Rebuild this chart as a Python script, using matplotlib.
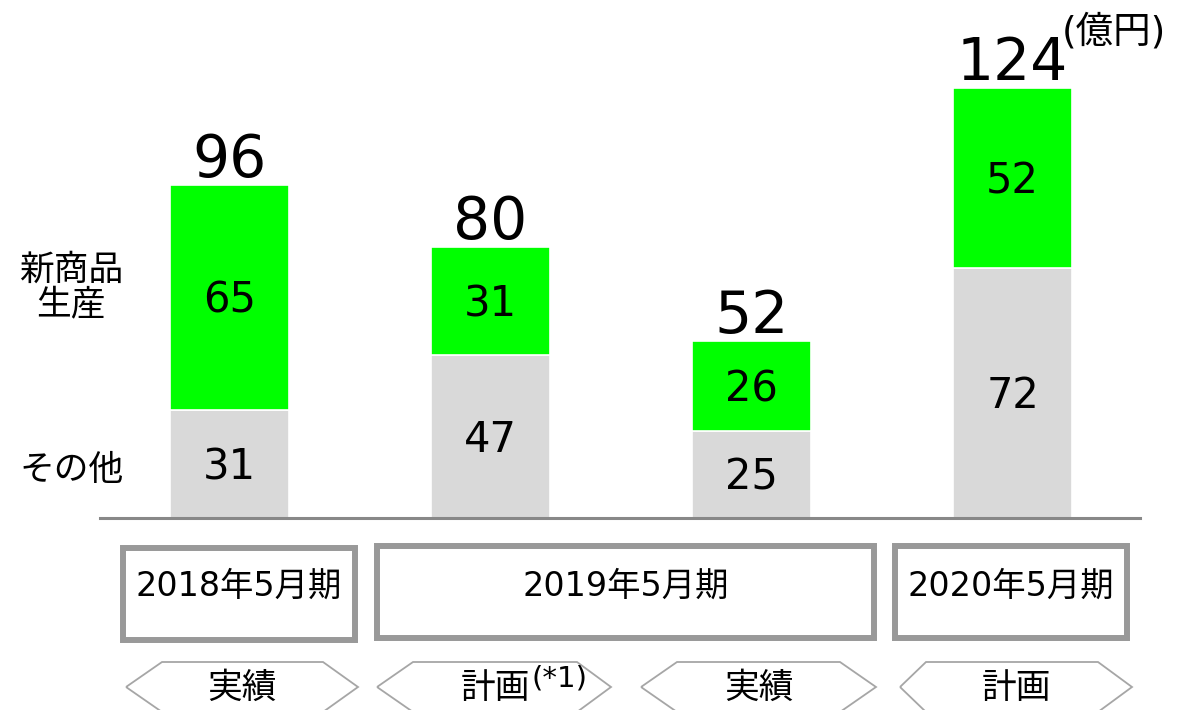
import numpy as np
import matplotlib
matplotlib.use("Agg")
import matplotlib.pyplot as plt
from matplotlib.patches import Rectangle, Polygon

plt.rcParams['font.family'] = ['DejaVu Sans', 'Noto Sans CJK JP']

# data
other = [31, 47, 25, 72]
new_product = [65, 31, 26, 52]
totals = [96, 80, 52, 124]
periods = ['2018年5月期', '2019年5月期', '2020年5月期']
kinds = ['実績', '計画', '実績', '計画']
kind_note = ['', '(*1)', '', '']
series_names = ['新商品\n生産', 'その他']
unit = '(億円)'

W, H = 1181, 710
fig = plt.figure(figsize=(W / 100, H / 100), dpi=100)

# bar axes, placed in pixels: baseline at y=518, x from 100 to 1140
px_per_unit = 3.468
step = 261.0
x0_px = 229.5
ax_left, ax_right, ax_bottom = 100, 1140, 518
ax = fig.add_axes([ax_left / W, 1 - ax_bottom / H, (ax_right - ax_left) / W, ax_bottom / H])
ax.set_xlim((ax_left - x0_px) / step, (ax_right - x0_px) / step)
ax.set_ylim(0, ax_bottom / px_per_unit)
ax.axis('off')

x = np.arange(len(other))
bw = 119 / step
ax.bar(x, other, width=bw, color='#d9d9d9', edgecolor='white', linewidth=1.2)
ax.bar(x, new_product, width=bw, bottom=other, color='#00ff00', edgecolor='white', linewidth=1.2)
ax.axhline(0, color='#888888', linewidth=2.2, clip_on=False)

for i in range(len(x)):
    ax.annotate(str(other[i]), (x[i], other[i] / 2), xytext=(0, -3), textcoords='offset pixels',
                ha='center', va='center', fontsize=30)
    ax.annotate(str(new_product[i]), (x[i], other[i] + new_product[i] / 2), xytext=(0, -3),
                textcoords='offset pixels', ha='center', va='center', fontsize=30)
    ax.annotate(str(totals[i]), (x[i], other[i] + new_product[i]), xytext=(0, 8),
                textcoords='offset pixels', ha='center', va='baseline', fontsize=42)

# overlay in pixel coordinates for the labels and boxes
ov = fig.add_axes([0, 0, 1, 1])
ov.set_xlim(0, W)
ov.set_ylim(H, 0)
ov.axis('off')
ov.patch.set_alpha(0)

ov.text(71, 287, series_names[0], ha='center', va='center', fontsize=25, linespacing=1.0)
ov.text(72, 470, series_names[1], ha='center', va='center', fontsize=25)
ov.text(1062, 32, unit, ha='left', va='center', fontsize=27)

# period boxes
boxes = [(123, 548, 355, 640), (377, 546, 874, 638), (895, 546, 1127, 638)]
for (l, t, r, b), lab in zip(boxes, periods):
    ov.add_patch(Rectangle((l, t), r - l, b - t, fill=False, edgecolor='#999999', linewidth=4.3))
    ov.text((l + r) / 2, 586, lab, ha='center', va='center', fontsize=24)

# arrow hexagons
hexes = [(126, 162, 323, 358), (377, 413, 577, 611), (641, 677, 840, 876), (900, 926, 1098, 1132)]
top, mid, bot = 662, 687, 712
for (lp, tl, tr, rp), k, note in zip(hexes, kinds, kind_note):
    pts = [(lp, mid), (tl, top), (tr, top), (rp, mid), (tr, bot), (tl, bot)]
    ov.add_patch(Polygon(pts, closed=True, fill=False, edgecolor='#a6a6a6', linewidth=1.3))
    cx = (lp + rp) / 2
    if note:
        ov.text(530, 688, k, ha='right', va='center', fontsize=25)
        ov.text(531, 679, note, ha='left', va='center', fontsize=21)
    else:
        ov.text(cx, 688, k, ha='center', va='center', fontsize=25)

fig.savefig('out.png', dpi=100)
